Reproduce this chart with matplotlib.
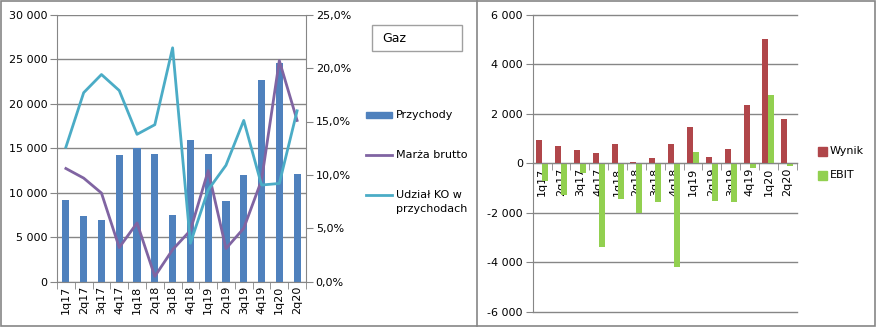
import numpy as np
import matplotlib.pyplot as plt
from matplotlib.patches import Rectangle
from matplotlib.lines import Line2D
from matplotlib.ticker import FuncFormatter, FixedLocator

kwartaly = ['1q17', '2q17', '3q17', '4q17', '1q18', '2q18', '3q18',
            '4q18', '1q19', '2q19', '3q19', '4q19', '1q20', '2q20']
przychody = [9200, 7400, 6900, 14200, 15000, 14300, 7500,
             15900, 14300, 9050, 12000, 22700, 24600, 12100]
marza_brutto = [10.6, 9.7, 8.3, 3.2, 5.5, 0.5, 3.0,
                4.8, 10.4, 3.1, 5.0, 9.5, 20.7, 15.1]
udzial_ko = [12.6, 17.7, 19.4, 17.9, 13.8, 14.7, 21.9,
             3.6, 8.6, 10.9, 15.1, 9.05, 9.2, 16.0]
wynik = [950, 715, 550, 430, 795, 65, 230,
         795, 1480, 270, 590, 2370, 5040, 1805]
ebit = [-700, -1300, -380, -3370, -1430, -2020, -1550,
        -4180, 470, -1510, -1550, -200, 2780, -95]

C_BAR = '#4F81BD'
C_MARZA = '#8064A2'
C_UDZIAL = '#4BACC6'
C_WYNIK = '#B0464A'
C_EBIT = '#92D050'
C_GRID = '#868686'
FS = 8


def tysiace(v, pos):
    return f'{int(v):,}'.replace(',', ' ')


def procent(v, pos):
    return f'{v:.1f}%'.replace('.', ',')


def os_kategorii(ax, n):
    ax.set_xlim(-0.5, n - 0.5)
    ax.set_xticks(range(n))
    ax.set_xticklabels(kwartaly, rotation=90, fontsize=FS)
    ax.xaxis.set_minor_locator(FixedLocator(np.arange(-0.5, n, 1.0)))
    ax.tick_params(axis='x', which='major', length=0, pad=3)
    ax.tick_params(axis='x', which='minor', length=5, color=C_GRID, direction='out')


fig = plt.figure(figsize=(8.77, 3.27), dpi=100)

# ramki
fig.patches.append(Rectangle((0.001, 0.003), 0.997, 0.994, transform=fig.transFigure,
                             fill=False, edgecolor=C_GRID, lw=1.2))
fig.add_artist(Line2D([477 / 877, 477 / 877], [0.003, 0.997], color=C_GRID, lw=1.2))

# --- lewy wykres ---
ax = fig.add_axes([57 / 877, (327 - 281.7) / 327, 249 / 877, 267 / 327])
n = len(kwartaly)
x = np.arange(n)
ax.bar(x, przychody, width=0.4, color=C_BAR, zorder=2)
ax.set_ylim(0, 30000)
ax.set_yticks(range(0, 30001, 5000))
ax.yaxis.set_major_formatter(FuncFormatter(tysiace))
ax.grid(axis='y', color=C_GRID, lw=1)
ax.set_axisbelow(True)
os_kategorii(ax, n)
for s in ['top', 'right']:
    ax.spines[s].set_visible(False)
for s in ['left', 'bottom']:
    ax.spines[s].set_color(C_GRID)
ax.tick_params(axis='y', length=5, color=C_GRID, labelsize=FS, pad=2)

ax2 = ax.twinx()
ax2.plot(x, marza_brutto, color=C_MARZA, lw=2.0, zorder=3)
ax2.plot(x, udzial_ko, color=C_UDZIAL, lw=2.0, zorder=4)
ax2.set_ylim(0, 25)
ax2.set_yticks(range(0, 26, 5))
ax2.yaxis.set_major_formatter(FuncFormatter(procent))
for s in ['top', 'left', 'bottom']:
    ax2.spines[s].set_visible(False)
ax2.spines['right'].set_color(C_GRID)
ax2.tick_params(axis='y', length=5, color=C_GRID, labelsize=FS, pad=2)

# pole "Gaz"
fig.patches.append(Rectangle((372 / 877, (327 - 51) / 327), 90 / 877, 26 / 327,
                             transform=fig.transFigure, fill=False, edgecolor='#A0A0A0', lw=1))
fig.text(382 / 877, (327 - 38) / 327, 'Gaz', fontsize=9, va='center')

# legenda lewa
fig.patches.append(Rectangle((366 / 877, (327 - 118) / 327), 26 / 877, 6 / 327,
                             transform=fig.transFigure, color=C_BAR))
fig.text(396 / 877, (327 - 115) / 327, 'Przychody', fontsize=FS, va='center')
fig.add_artist(Line2D([366 / 877, 392 / 877], [(327 - 155) / 327] * 2, color=C_MARZA, lw=2.0))
fig.text(396 / 877, (327 - 155) / 327, 'Marża brutto', fontsize=FS, va='center')
fig.add_artist(Line2D([366 / 877, 392 / 877], [(327 - 195) / 327] * 2, color=C_UDZIAL, lw=2.0))
fig.text(396 / 877, (327 - 202) / 327, 'Udział KO w\nprzychodach', fontsize=FS,
         va='center', linespacing=1.5)

# --- prawy wykres ---
bx = fig.add_axes([532.7 / 877, (327 - 311.7) / 327, 264 / 877, 296.7 / 327])
bw = 0.32
bx.bar(x - bw / 2, wynik, width=bw, color=C_WYNIK, zorder=2)
bx.bar(x + bw / 2, ebit, width=bw, color=C_EBIT, zorder=2)
bx.set_ylim(-6000, 6000)
bx.set_yticks(range(-6000, 6001, 2000))
bx.yaxis.set_major_formatter(FuncFormatter(tysiace))
bx.set_axisbelow(True)
for v in range(-6000, 6001, 2000):
    bx.axhline(v, color=C_GRID, lw=1, zorder=0, clip_on=False)
bx.spines['bottom'].set_position(('data', 0))
bx.spines['bottom'].set_zorder(3)
os_kategorii(bx, n)
for s in ['top', 'right']:
    bx.spines[s].set_visible(False)
for s in ['left', 'bottom']:
    bx.spines[s].set_color(C_GRID)
bx.tick_params(axis='y', length=5, color=C_GRID, labelsize=FS, pad=2)
for t in bx.get_xticklabels():
    t.set_zorder(5)

# legenda prawa
fig.patches.append(Rectangle((818 / 877, (327 - 156) / 327), 9 / 877, 9 / 327,
                             transform=fig.transFigure, color=C_WYNIK))
fig.text(830 / 877, (327 - 151) / 327, 'Wynik', fontsize=FS, va='center')
fig.patches.append(Rectangle((818 / 877, (327 - 180) / 327), 9 / 877, 9 / 327,
                             transform=fig.transFigure, color=C_EBIT))
fig.text(830 / 877, (327 - 175) / 327, 'EBIT', fontsize=FS, va='center')

fig.savefig('out.png', dpi=100)
